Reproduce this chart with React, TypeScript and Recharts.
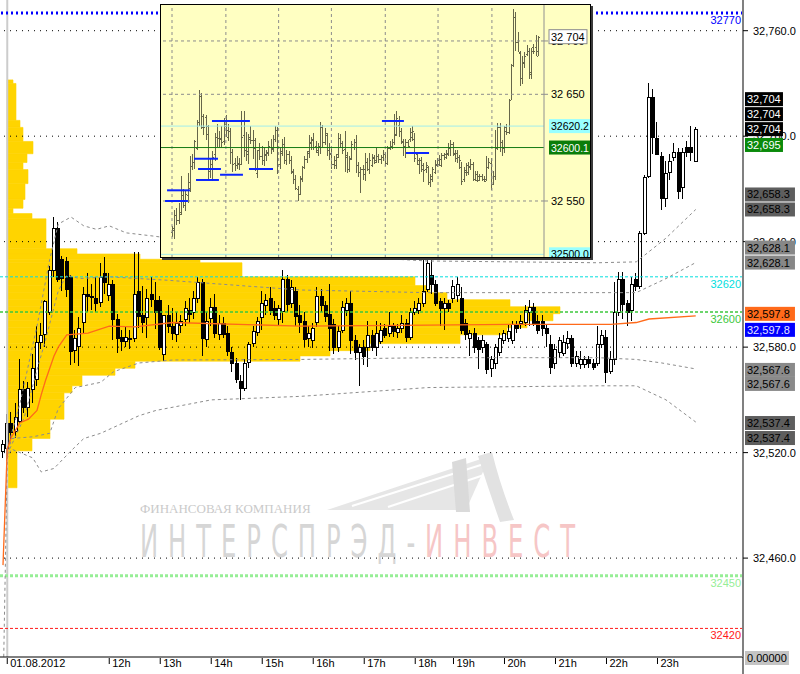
import React from 'react';
import {
  ComposedChart, Bar, Line, XAxis, YAxis, ReferenceLine, ReferenceArea,
} from 'recharts';

const FONT = '"Liberation Sans", Arial, sans-serif';

// 5-minute bars [open, high, low, close]; bar 0 is the last bar of the previous session
const ohlc = [
  [32521, 32527, 32517, 32525], [32523, 32542, 32515, 32537], [32537, 32543, 32527, 32532], [32532, 32548, 32528, 32540],
  [32538, 32573, 32536, 32556], [32556, 32561, 32543, 32546], [32546, 32560, 32540, 32557], [32556, 32576, 32548, 32568],
  [32562, 32592, 32558, 32583], [32583, 32594, 32579, 32587], [32587, 32607, 32580, 32606], [32600, 32626, 32598, 32624],
  [32624, 32654, 32620, 32648], [32648, 32651, 32617, 32619], [32630, 32632, 32612, 32619], [32629, 32631, 32608, 32613],
  [32620, 32621, 32570, 32578], [32578, 32590, 32571, 32585], [32581, 32597, 32569, 32591], [32594, 32614, 32588, 32610],
  [32610, 32622, 32600, 32609], [32609, 32616, 32601, 32609], [32608, 32620, 32600, 32605], [32606, 32628, 32603, 32620],
  [32622, 32631, 32610, 32617], [32610, 32622, 32606, 32616], [32616, 32618, 32584, 32596], [32596, 32599, 32577, 32585],
  [32586, 32590, 32578, 32584], [32584, 32592, 32580, 32586], [32585, 32590, 32579, 32585], [32585, 32634, 32583, 32610],
  [32612, 32634, 32591, 32598], [32598, 32615, 32588, 32594], [32597, 32613, 32585, 32608], [32610, 32620, 32603, 32607],
  [32607, 32617, 32590, 32600], [32607, 32609, 32578, 32580], [32576, 32592, 32572, 32598], [32598, 32604, 32588, 32592],
  [32592, 32602, 32584, 32588], [32588, 32600, 32583, 32594], [32593, 32598, 32588, 32595], [32596, 32606, 32592, 32602],
  [32601, 32608, 32594, 32599], [32600, 32612, 32596, 32608], [32608, 32620, 32605, 32617], [32617, 32619, 32575, 32585],
  [32585, 32600, 32580, 32595], [32597, 32608, 32592, 32603], [32603, 32610, 32585, 32588], [32588, 32598, 32584, 32594],
  [32594, 32597, 32585, 32588], [32588, 32592, 32575, 32578], [32577, 32580, 32566, 32571], [32571, 32574, 32560, 32562],
  [32561, 32564, 32550, 32557], [32557, 32573, 32555, 32571], [32572, 32583, 32568, 32582], [32582, 32592, 32580, 32589],
  [32589, 32597, 32586, 32595], [32597, 32612, 32590, 32605], [32604, 32610, 32598, 32607], [32608, 32614, 32598, 32601],
  [32602, 32606, 32595, 32598], [32596, 32604, 32592, 32602], [32601, 32624, 32594, 32619], [32619, 32621, 32600, 32605],
  [32605, 32618, 32602, 32614], [32612, 32614, 32592, 32598], [32598, 32604, 32588, 32594], [32595, 32600, 32580, 32585],
  [32585, 32592, 32580, 32588], [32584, 32594, 32580, 32591], [32594, 32614, 32591, 32609], [32609, 32613, 32600, 32604],
  [32604, 32606, 32594, 32598], [32599, 32616, 32578, 32591], [32593, 32596, 32576, 32580], [32580, 32592, 32577, 32589],
  [32590, 32606, 32588, 32603], [32601, 32608, 32598, 32605], [32605, 32612, 32576, 32584], [32584, 32587, 32573, 32577],
  [32577, 32582, 32558, 32580], [32580, 32584, 32570, 32575], [32580, 32595, 32569, 32587], [32587, 32590, 32578, 32580],
  [32580, 32595, 32575, 32588], [32584, 32594, 32582, 32590], [32591, 32593, 32585, 32587], [32588, 32600, 32586, 32592],
  [32592, 32594, 32586, 32589], [32589, 32593, 32585, 32591], [32591, 32598, 32588, 32594], [32594, 32596, 32583, 32586],
  [32586, 32602, 32584, 32600], [32600, 32606, 32598, 32602], [32601, 32608, 32599, 32605], [32605, 32632, 32603, 32612],
  [32613, 32634, 32611, 32628], [32621, 32630, 32610, 32616], [32616, 32618, 32603, 32605], [32606, 32608, 32592, 32602],
  [32602, 32608, 32590, 32605], [32605, 32607, 32600, 32602], [32608, 32618, 32605, 32615], [32610, 32620, 32606, 32616],
  [32608, 32614, 32587, 32590], [32594, 32596, 32584, 32588], [32585, 32590, 32575, 32588], [32588, 32591, 32577, 32580],
  [32584, 32586, 32568, 32579], [32580, 32587, 32577, 32584], [32582, 32583, 32565, 32568], [32568, 32575, 32563, 32573],
  [32571, 32582, 32568, 32580], [32577, 32588, 32575, 32585], [32584, 32590, 32582, 32588], [32585, 32593, 32583, 32589],
  [32584, 32595, 32582, 32593], [32593, 32595, 32588, 32591], [32594, 32598, 32590, 32595], [32594, 32604, 32592, 32601],
  [32600, 32607, 32592, 32603], [32603, 32605, 32592, 32594], [32595, 32598, 32587, 32590], [32595, 32598, 32586, 32591],
  [32591, 32593, 32580, 32588], [32582, 32587, 32565, 32569], [32571, 32582, 32568, 32579], [32577, 32586, 32574, 32584],
  [32577, 32587, 32575, 32583], [32582, 32589, 32579, 32585], [32585, 32587, 32569, 32571], [32571, 32578, 32569, 32575],
  [32570, 32578, 32568, 32573], [32570, 32575, 32568, 32573], [32573, 32575, 32568, 32571], [32571, 32573, 32567, 32569],
  [32571, 32592, 32569, 32582], [32582, 32590, 32580, 32587], [32586, 32590, 32560, 32566], [32566, 32578, 32565, 32573],
  [32573, 32617, 32570, 32600], [32600, 32623, 32598, 32619], [32619, 32623, 32596, 32605], [32605, 32607, 32592, 32600],
  [32601, 32620, 32595, 32616], [32619, 32622, 32612, 32615], [32615, 32646, 32613, 32645], [32645, 32678, 32644, 32677],
  [32677, 32730, 32676, 32722], [32722, 32727, 32690, 32699], [32699, 32708, 32689, 32690], [32689, 32691, 32658, 32665],
  [32665, 32686, 32660, 32679], [32680, 32690, 32675, 32686], [32688, 32696, 32686, 32691], [32691, 32693, 32664, 32669],
  [32671, 32693, 32664, 32691], [32694, 32697, 32688, 32691], [32694, 32706, 32686, 32691], [32686, 32705, 32686, 32704],
];

// time axis: bar index of each hour mark
const timeTicks = [1, 25, 37, 49, 61, 73, 85, 97, 106, 118, 130, 142, 154];
const timeLabels = ['01.08.2012', '12h', '13h', '14h', '15h', '16h', '17h', '18h', '19h', '20h', '21h', '22h', '23h'];
const priceTicks = [32460, 32520, 32580, 32640, 32700, 32760];

// VWAP and deviation bands, [bar index, price]
const vwapPts = [
  [0, 32456], [1, 32522], [2, 32529], [4, 32537], [6, 32539], [8, 32544], [9, 32553], [10, 32561], [12, 32575],
  [13, 32580], [15, 32587], [20, 32588], [25, 32592], [31, 32591.5], [40, 32594], [70, 32592], [100, 32592.5],
  [120, 32593], [143, 32593], [149, 32594], [152, 32596], [163, 32597.8],
];
const upper1Pts = [
  [1, 32519], [5, 32540], [8, 32567], [10, 32584], [13, 32612], [15, 32621], [18, 32619], [25, 32620], [39, 32618],
  [70, 32612.5], [100, 32611], [149, 32611], [156, 32619], [163, 32628.1],
];
const upper2Pts = [
  [1, 32522], [4, 32548], [8, 32592], [11, 32630], [13, 32650], [16, 32654], [19, 32649], [22, 32647], [25, 32649],
  [29, 32645], [36, 32643], [50, 32638], [70, 32633], [100, 32629], [140, 32628], [149, 32628.5], [156, 32642],
  [163, 32658.3],
];
const lower1Pts = [
  [1, 32518], [2, 32528], [7, 32529], [11, 32531], [13, 32545], [17, 32557], [23, 32560], [26, 32566], [32, 32571],
  [40, 32572.7], [70, 32573], [100, 32574], [140, 32574], [149, 32573], [155, 32571], [163, 32567.6],
];
const lower2Pts = [
  [0, 32380], [1, 32517], [2, 32522], [7, 32517], [9, 32509], [12, 32511], [16, 32521], [19, 32528], [23, 32531],
  [32, 32541], [36, 32544], [49, 32550], [70, 32552], [100, 32557], [140, 32558], [149, 32558], [156, 32550],
  [163, 32537.4],
];

// horizontal levels
const levelPrices = [32770, 32620, 32600, 32450, 32420];
const levelColors = ['#0000ff', '#00dede', '#3cc83c', '#96ee96', '#ff1a1a'];
const levelWidths = [3, 1, 1.5, 3, 1];
const levelDash = ['2 3', '3 2', '3 2', '3 2', '3 2'];

// volume profile: [price from, price to, volume]
const profile = [
  [32730, 32732, 6], [32709, 32730, 9], [32705, 32709, 13], [32697, 32705, 16], [32690, 32697, 26],
  [32685, 32690, 20], [32681, 32685, 16], [32673, 32681, 21], [32664, 32673, 18], [32659, 32664, 16],
  [32656, 32659, 6], [32653, 32656, 25], [32636, 32653, 39], [32633, 32636, 70], [32630, 32633, 133],
  [32628, 32630, 193], [32620, 32628, 235], [32615, 32620, 408], [32611, 32615, 423], [32607, 32611, 440],
  [32603, 32607, 503], [32599, 32603, 553], [32595, 32599, 546], [32591, 32595, 520], [32587, 32591, 500],
  [32582, 32587, 453], [32578, 32582, 363], [32575, 32578, 323], [32572, 32575, 293], [32568, 32572, 128],
  [32564, 32568, 108], [32558, 32564, 75], [32554, 32558, 65], [32550, 32554, 57], [32539, 32550, 57],
  [32528, 32539, 43], [32521, 32528, 25], [32500, 32521, 10],
];

// last values on the price scale
const markerValues = [32704, 32704, 32704, 32695, 32658.3, 32658.3, 32628.1, 32628.1, 32597.8, 32597.8, 32567.6, 32567.6, 32537.4, 32537.4];
const markerLook = [
  { bg: '#000', fg: '#fff', dy: -30, dec: 0 }, { bg: '#000', fg: '#fff', dy: -15, dec: 0 },
  { bg: '#000', fg: '#fff', dy: 0, dec: 0 }, { bg: '#0a8a0a', fg: '#fff', dy: 0, dec: 0 },
  { bg: '#5e5e5e', fg: '#000', dy: -15, dec: 1 }, { bg: '#5e5e5e', fg: '#000', dy: 0, dec: 1 },
  { bg: '#878787', fg: '#000', dy: -15, dec: 1 }, { bg: '#878787', fg: '#000', dy: 0, dec: 1 },
  { bg: '#ff6a1a', fg: '#000', dy: -2, dec: 1 }, { bg: '#0000ff', fg: '#e8e8ff', dy: 14, dec: 1 },
  { bg: '#8a8a8a', fg: '#000', dy: 1, dec: 1 }, { bg: '#8a8a8a', fg: '#000', dy: 15, dec: 1 },
  { bg: '#5e5e5e', fg: '#000', dy: 1, dec: 1 }, { bg: '#5e5e5e', fg: '#000', dy: 16, dec: 1 },
];

// inset panel
const insetTicks = [32550, 32650, 32700];
const insetGrid = [0, 24, 47.5, 71, 95, 118.5, 142.5];
const insetLevels = [32620.2, 32600.1, 32500];
const insetLevelColors = ['#a2ecec', '#157a15', '#a2ecec'];
const insetLevelLabels = ['32620.2', '32600.1', '32500.0'];
const insetLabelLook = [{ bg: '#9ff', fg: '#000' }, { bg: '#0a7d0a', fg: '#fff' }, { bg: '#9ff', fg: '#000' }];
const insetMarks = [
  [-3.1, 7.1, 32550], [-2.2, 8.0, 32560], [9.8, 20.5, 32589.6], [11.6, 21.8, 32580], [10.7, 20.9, 32569.7],
  [21.4, 31.6, 32574.6], [17.8, 34.7, 32625], [34.3, 45, 32580], [93.5, 103.3, 32625], [104.2, 114.5, 32595],
];

const Y_DOMAIN: [number, number] = [32403.74, 32777.46];
const X_DOMAIN: [number, number] = [-0.706, 174.12];
const VOL_DOMAIN: [number, number] = [-7, 736];
const INSET_X: [number, number] = [-4.9, 165.7];
const INSET_Y: [number, number] = [32497.5, 32733.7];

const candles = ohlc.map(([o, h, l, c], i) => {
  const hi = Math.max(h, o, c);
  const lo = Math.min(l, o, c);
  return { i, o, c, hi, lo, range: [lo, hi] };
});
const profileRows = profile.map(([lo, hi, vol]) => ({ lo, hi, vol }));
const pts = (a: number[][]) => a.map(([i, v]) => ({ i, v }));
const fmt = (v: number, dec: number) =>
  v.toLocaleString('en-US', { minimumFractionDigits: dec, maximumFractionDigits: dec });

const priceOf = (props: any) => {
  const { y, height, payload } = props;
  const top = Math.min(y, y + height);
  const h = Math.abs(height);
  const span = payload.hi - payload.lo || 1;
  return { top, h, py: (p: number) => top + ((payload.hi - p) / span) * h };
};

const Candle = (props: any) => {
  const { x, y, width, payload } = props;
  if (x == null || y == null || !payload) return null;
  const { top, h, py } = priceOf(props);
  const cx = Math.round(x + width / 2);
  const yo = py(payload.o);
  const yc = py(payload.c);
  const bt = Math.round(Math.min(yo, yc));
  const bh = Math.max(Math.round(Math.abs(yc - yo)), 1);
  const up = payload.c >= payload.o;
  return (
    <g shapeRendering="crispEdges">
      <rect x={cx - 1} y={Math.round(top)} width={1} height={Math.max(Math.round(h), 1)} fill="#000" />
      <rect x={cx - 2} y={bt} width={4} height={bh + 1} fill="#000" />
      {up && bh > 1 && <rect x={cx - 1} y={bt + 1} width={2} height={bh - 1} fill="#fff" />}
    </g>
  );
};

const OhlcBar = (props: any) => {
  const { x, y, width, payload } = props;
  if (x == null || y == null || !payload) return null;
  const { top, h, py } = priceOf(props);
  const cx = Math.round(x + width / 2);
  const col = '#66664a';
  return (
    <g shapeRendering="crispEdges">
      <rect x={cx} y={Math.round(top)} width={1} height={Math.max(Math.round(h), 1)} fill={col} />
      <rect x={cx - 1} y={Math.round(py(payload.o))} width={1} height={1} fill={col} />
      <rect x={cx + 1} y={Math.round(py(payload.c))} width={1} height={1} fill={col} />
    </g>
  );
};

const TimeTick = (props: any) => {
  const { x, y, payload } = props;
  const k = timeTicks.indexOf(payload.value);
  return (
    <g>
      <line x1={x} x2={x} y1={y + 1} y2={y + 7} stroke="#000" />
      <text x={x + 3} y={y + 10} fontSize={11} fontFamily={FONT} fill="#000">{timeLabels[k]}</text>
    </g>
  );
};

const LevelLabel = (props: any) => {
  const { viewBox, text, color } = props;
  if (!viewBox) return null;
  return (
    <text x={viewBox.x + viewBox.width - 2} y={viewBox.y + 11} textAnchor="end" fontSize={11} fontFamily={FONT} fill={color}>
      {text}
    </text>
  );
};

const ValueBox = (props: any) => {
  const { viewBox, text, bg, fg, dy, gap, border, size = 11 } = props;
  if (!viewBox) return null;
  const x = viewBox.x + viewBox.width + gap;
  const y = viewBox.y + dy;
  const w = text.length * size * 0.545 + 2;
  return (
    <g>
      <rect x={x} y={y - 7} width={w} height={14} fill={bg} stroke={border || 'none'} />
      <text x={x + 2} y={y + 4} fontSize={size} fontFamily={FONT} fill={fg}>{text}</text>
    </g>
  );
};

const layer: React.CSSProperties = { position: 'absolute', left: 0, top: 0 };

const Watermark = () => (
  <svg width={800} height={674} style={layer}>
    <polygon points="327,510 490,456 466,510" fill="#e6e6e6" />
    <line x1={352} y1={506} x2={487} y2={463} stroke="#fff" strokeWidth={2} />
    <line x1={388} y1={507} x2={484} y2={475} stroke="#fff" strokeWidth={2} />
    <polygon points="452,462 466,458 470,512 456,512" fill="#dadada" />
    <path d="M478 456 L492 452 Q500 485 514 520 L500 522 Q488 488 478 456 Z" fill="#e2e2e2" />
    <text x={140} y={513} fontFamily='"Liberation Serif", serif' fontSize={13} fill="#cacaca">ФИНАНСОВАЯ КОМПАНИЯ</text>
    <text transform="translate(140 557) scale(0.6 1)" fontFamily='"DejaVu Sans Condensed", "DejaVu Sans", sans-serif'
      fontSize={45} textLength={725} lengthAdjust="spacing">
      <tspan fill="#d6d6d6">ИНТЕРСПРЭД-</tspan>
      <tspan fill="#f6c6c6">ИНВЕСТ</tspan>
    </text>
    <line x1={743} y1={657} x2={743} y2={674} stroke="#808080" strokeWidth={2} />
  </svg>
);

const ProfileLayer = () => (
  <div style={layer}>
    <ComposedChart width={800} height={674} margin={{ top: 0, right: 0, bottom: 0, left: 0 }} data={profileRows}>
      <XAxis type="number" dataKey="vol" domain={VOL_DOMAIN} allowDataOverflow height={17} tick={false} axisLine={false} tickLine={false} />
      <YAxis orientation="right" type="number" dataKey="lo" domain={Y_DOMAIN} allowDataOverflow width={57} tick={false} axisLine={false} tickLine={false} />
      {profileRows.map((r, k) => (
        <ReferenceArea key={k} x1={0} x2={r.vol} y1={r.lo} y2={r.hi}
          fill="#ffd400" fillOpacity={1} stroke="#ffd400" strokeWidth={0.6} ifOverflow="visible" />
      ))}
    </ComposedChart>
  </div>
);

const MainLayer = () => (
  <div style={layer}>
    <ComposedChart width={800} height={674} margin={{ top: 0, right: 0, bottom: 0, left: 0 }} data={candles}>
      <XAxis type="number" dataKey="i" domain={X_DOMAIN} allowDataOverflow ticks={timeTicks} interval={0}
        height={17} tickSize={0} tickMargin={0} tickLine={false} axisLine={{ stroke: '#000' }} tick={<TimeTick />} />
      <YAxis orientation="right" type="number" domain={Y_DOMAIN} allowDataOverflow ticks={priceTicks} interval={0}
        width={57} tickSize={5} tickMargin={5} axisLine={{ stroke: '#808080', strokeWidth: 2 }} tickLine={{ stroke: '#000' }}
        tick={{ fontSize: 11, fill: '#000', fontFamily: FONT }} tickFormatter={(v: number) => fmt(v, 1)} />
      <ReferenceLine x={1} stroke="#cccccc" strokeWidth={2} />
      {priceTicks.map((t) => (
        <ReferenceLine key={t} y={t} stroke="#000" strokeDasharray="1 5" />
      ))}
      {levelPrices.map((p, k) => (
        <ReferenceLine key={p} y={p} stroke={levelColors[k]} strokeWidth={levelWidths[k]} strokeDasharray={levelDash[k]}
          label={<LevelLabel text={String(p)} color={levelColors[k]} />} />
      ))}
      <Line data={pts(upper2Pts)} dataKey="v" stroke="#8c8c8c" strokeDasharray="3 3" dot={false} activeDot={false} isAnimationActive={false} />
      <Line data={pts(upper1Pts)} dataKey="v" stroke="#8c8c8c" strokeDasharray="3 3" dot={false} activeDot={false} isAnimationActive={false} />
      <Line data={pts(lower1Pts)} dataKey="v" stroke="#8c8c8c" strokeDasharray="3 3" dot={false} activeDot={false} isAnimationActive={false} />
      <Line data={pts(lower2Pts)} dataKey="v" stroke="#8c8c8c" strokeDasharray="3 3" dot={false} activeDot={false} isAnimationActive={false} />
      <Line data={pts(vwapPts)} dataKey="v" stroke="#ff6a1a" strokeWidth={1.3} dot={false} activeDot={false} isAnimationActive={false} />
      <Bar dataKey="range" barSize={4} shape={<Candle />} isAnimationActive={false} />
    </ComposedChart>
  </div>
);

const insetAxisProps = {
  orientation: 'right' as const, type: 'number' as const, domain: INSET_Y, allowDataOverflow: true, width: 46,
};

const InsetLayer = () => (
  <div style={{
    position: 'absolute', left: 160, top: 4, width: 431, height: 254, boxSizing: 'border-box',
    border: '1px solid #000', background: '#ffffc2', boxShadow: '2px 2px 0 #3a3a3a', overflow: 'hidden',
  }}>
    <div style={layer}>
      <ComposedChart width={429} height={252} margin={{ top: 0, right: 0, bottom: 0, left: 0 }} data={candles}>
        <XAxis type="number" dataKey="i" domain={INSET_X} allowDataOverflow height={0} tick={false} axisLine={false} tickLine={false} />
        <YAxis {...insetAxisProps} ticks={insetTicks} interval={0}
          tickSize={4} tickMargin={3} axisLine={{ stroke: '#909090' }} tickLine={{ stroke: '#909090' }}
          tick={{ fontSize: 11, fill: '#000', fontFamily: FONT }}
          tickFormatter={(v: number) => `${Math.floor(v / 1000)} ${String(v % 1000).padStart(3, '0')}`} />
        {insetGrid.map((g) => (
          <ReferenceLine key={`gx${g}`} x={g} stroke="#8c8c8c" strokeDasharray="3 3" />
        ))}
        {insetTicks.map((t) => (
          <ReferenceLine key={`gy${t}`} y={t} stroke="#8c8c8c" strokeDasharray="3 3" />
        ))}
        {insetLevels.map((p, k) => (
          <ReferenceLine key={`l${p}`} y={p} stroke={insetLevelColors[k]} ifOverflow="visible" />
        ))}
        <Bar dataKey="range" barSize={2} shape={<OhlcBar />} isAnimationActive={false} />
        {insetMarks.map(([s, e, p], k) => (
          <ReferenceLine key={`m${k}`} segment={[{ x: s, y: p }, { x: e, y: p }]} stroke="#0a24ff" strokeWidth={2} />
        ))}
      </ComposedChart>
    </div>
    <div style={layer}>
      <ComposedChart width={429} height={252} margin={{ top: 0, right: 0, bottom: 0, left: 0 }} data={candles}>
        <XAxis type="number" dataKey="i" domain={INSET_X} allowDataOverflow height={0} tick={false} axisLine={false} tickLine={false} />
        <YAxis {...insetAxisProps} tick={false} axisLine={false} tickLine={false} />
        {insetLevels.map((p, k) => (
          <ReferenceLine key={`b${p}`} y={p} stroke="none" ifOverflow="visible"
            label={<ValueBox text={insetLevelLabels[k]} bg={insetLabelLook[k].bg} fg={insetLabelLook[k].fg} dy={0} gap={5} size={10.5} />} />
        ))}
        <ReferenceLine y={ohlc[ohlc.length - 1][3]} stroke="none"
          label={<ValueBox text="32 704" bg="#fff" fg="#000" border="#8c8c8c" dy={0} gap={5} size={11} />} />
      </ComposedChart>
    </div>
  </div>
);

const MarkerLayer = () => (
  <div style={layer}>
    <ComposedChart width={800} height={674} margin={{ top: 0, right: 0, bottom: 0, left: 0 }} data={candles}>
      <XAxis type="number" dataKey="i" domain={X_DOMAIN} height={17} tick={false} axisLine={false} tickLine={false} />
      <YAxis orientation="right" type="number" domain={Y_DOMAIN} allowDataOverflow width={57} tick={false} axisLine={false} tickLine={false} />
      {markerValues.map((v, k) => (
        <ReferenceLine key={k} y={v} stroke="none" ifOverflow="visible"
          label={<ValueBox text={fmt(v, markerLook[k].dec)} bg={markerLook[k].bg} fg={markerLook[k].fg} dy={markerLook[k].dy} gap={2} />} />
      ))}
      <ReferenceLine y={Y_DOMAIN[0]} stroke="none" ifOverflow="visible"
        label={<ValueBox text="0.00000" bg="#c4c4c4" fg="#000" dy={1} gap={2} />} />
    </ComposedChart>
  </div>
);

export default function App() {
  return (
    <div style={{ position: 'absolute', left: 0, top: 0, width: 800, height: 674, background: '#fff', overflow: 'hidden' }}>
      <Watermark />
      <ProfileLayer />
      <MainLayer />
      <InsetLayer />
      <MarkerLayer />
    </div>
  );
}
